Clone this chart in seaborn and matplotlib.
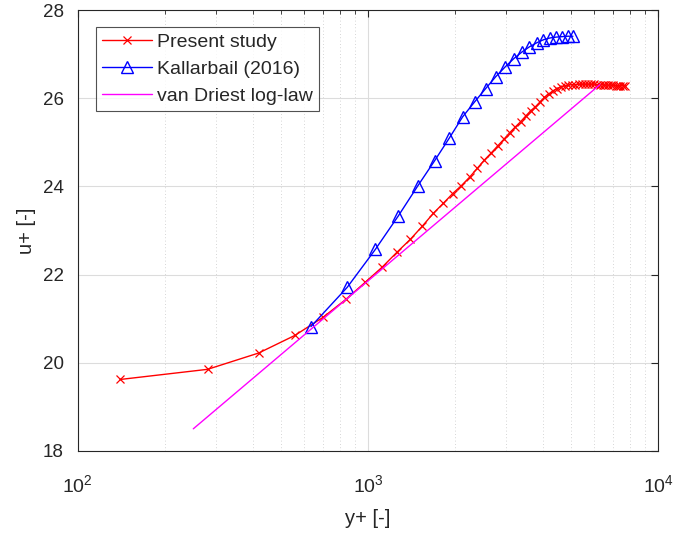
import matplotlib
matplotlib.use("Agg")
import matplotlib.pyplot as plt
import seaborn as sns
import numpy as np
from matplotlib.ticker import LogLocator, FixedLocator

# ---------------- data ----------------
present_yplus = [140, 280, 420, 560, 700, 840, 980, 1120, 1260, 1400,
                 1540, 1680, 1820, 1960, 2100, 2240, 2380, 2520, 2660, 2800,
                 2940, 3080, 3220, 3360, 3500, 3640, 3780, 3920, 4060, 4200,
                 4340, 4480, 4620, 4760, 4900, 5040, 5180, 5320, 5460, 5600,
                 5740, 5880, 6020, 6160, 6300, 6440, 6580, 6720, 6860, 7000,
                 7140, 7280, 7420, 7560, 7700]
present_uplus = [19.62, 19.85, 20.22, 20.62, 21.03, 21.44, 21.83, 22.17, 22.51, 22.80,
                 23.10, 23.39, 23.62, 23.84, 24.02, 24.21, 24.41, 24.60, 24.76, 24.92,
                 25.07, 25.22, 25.35, 25.47, 25.60, 25.72, 25.81, 25.92, 26.02, 26.10,
                 26.17, 26.22, 26.26, 26.28, 26.30, 26.31, 26.31, 26.32, 26.32, 26.32,
                 26.32, 26.32, 26.32, 26.31, 26.31, 26.31, 26.30, 26.30, 26.30, 26.30,
                 26.29, 26.29, 26.29, 26.29, 26.29]

kallarbail_yplus = [636, 848, 1060, 1272, 1484, 1696, 1908, 2120, 2332, 2544,
                    2756, 2968, 3180, 3392, 3604, 3816, 4028, 4240, 4452, 4664,
                    4876, 5088]
kallarbail_uplus = [20.82, 21.71, 22.57, 23.33, 24.01, 24.58, 25.10, 25.58, 25.92, 26.22,
                    26.49, 26.71, 26.90, 27.05, 27.17, 27.26, 27.33, 27.37, 27.39, 27.40,
                    27.41, 27.41]

loglaw_yplus = [250, 6300]
loglaw_uplus = [18.50, 26.31]

xticks = [1e2, 1e3, 1e4]
yticks = [18, 20, 22, 24, 26, 28]

# ---------------- style ----------------
sns.set_theme(style="white")
plt.rcParams['font.family'] = ['Liberation Sans', 'DejaVu Sans']
plt.rcParams['mathtext.fontset'] = 'custom'
plt.rcParams['mathtext.rm'] = 'Liberation Sans'
plt.rcParams['mathtext.it'] = 'Liberation Sans:italic'

axcol = '#262626'

fig = plt.figure(figsize=(6.77, 5.38), dpi=100)
ax = fig.add_axes([0.115, 0.162, 0.857, 0.819])

sns.lineplot(x=present_yplus, y=present_uplus, ax=ax, color='red', lw=1.0,
             marker='x', markersize=6, markeredgewidth=0.9, markeredgecolor='red',
             estimator=None, sort=False, label='Present study')
sns.lineplot(x=kallarbail_yplus, y=kallarbail_uplus, ax=ax, color='blue', lw=1.0,
             marker='^', markersize=9, markerfacecolor='none', markeredgecolor='blue',
             markeredgewidth=1.0, estimator=None, sort=False, label='Kallarbail (2016)')
sns.lineplot(x=loglaw_yplus, y=loglaw_uplus, ax=ax, color='magenta', lw=1.0,
             estimator=None, sort=False, label='van Driest log-law')

ax.set_xscale('log')
ax.set_xlim(1e2, 1e4)
ax.set_ylim(18, 28)
ax.xaxis.set_major_locator(FixedLocator(xticks))
ax.xaxis.set_minor_locator(LogLocator(base=10, subs=np.arange(2, 10), numticks=20))
ax.yaxis.set_major_locator(FixedLocator(yticks))

ax.grid(True, which='major', color='#dcdcdc', lw=0.8, ls='-')
ax.grid(True, which='minor', axis='x', color='#c8c8c8', lw=0.6, ls=(0, (1, 3)))
ax.set_axisbelow(True)

for s in ax.spines.values():
    s.set_visible(True)
    s.set_color(axcol)
    s.set_linewidth(0.8)

ax.tick_params(which='both', direction='in', top=True, right=True,
               colors=axcol, labelcolor='#262626')
ax.tick_params(which='major', length=5, width=0.8, labelsize=13.5)
ax.tick_params(which='minor', length=3, width=0.6)
ax.tick_params(axis='x', which='major', pad=17, labelsize=14)
ax.tick_params(axis='y', which='major', pad=10)

ax.set_xlabel('y+ [-]', fontsize=14.5, color='#262626', labelpad=9)
ax.set_ylabel('u+ [-]', fontsize=14.5, color='#262626', labelpad=5)

leg = ax.legend(loc='upper left', bbox_to_anchor=(0.031, 0.961), fontsize=14,
                frameon=True, fancybox=False, edgecolor='#262626',
                handlelength=2.6, handletextpad=0.25, borderpad=0.3,
                labelspacing=0.48, borderaxespad=0.0)
leg.get_frame().set_linewidth(0.8)

fig.savefig('out.png', dpi=100)
